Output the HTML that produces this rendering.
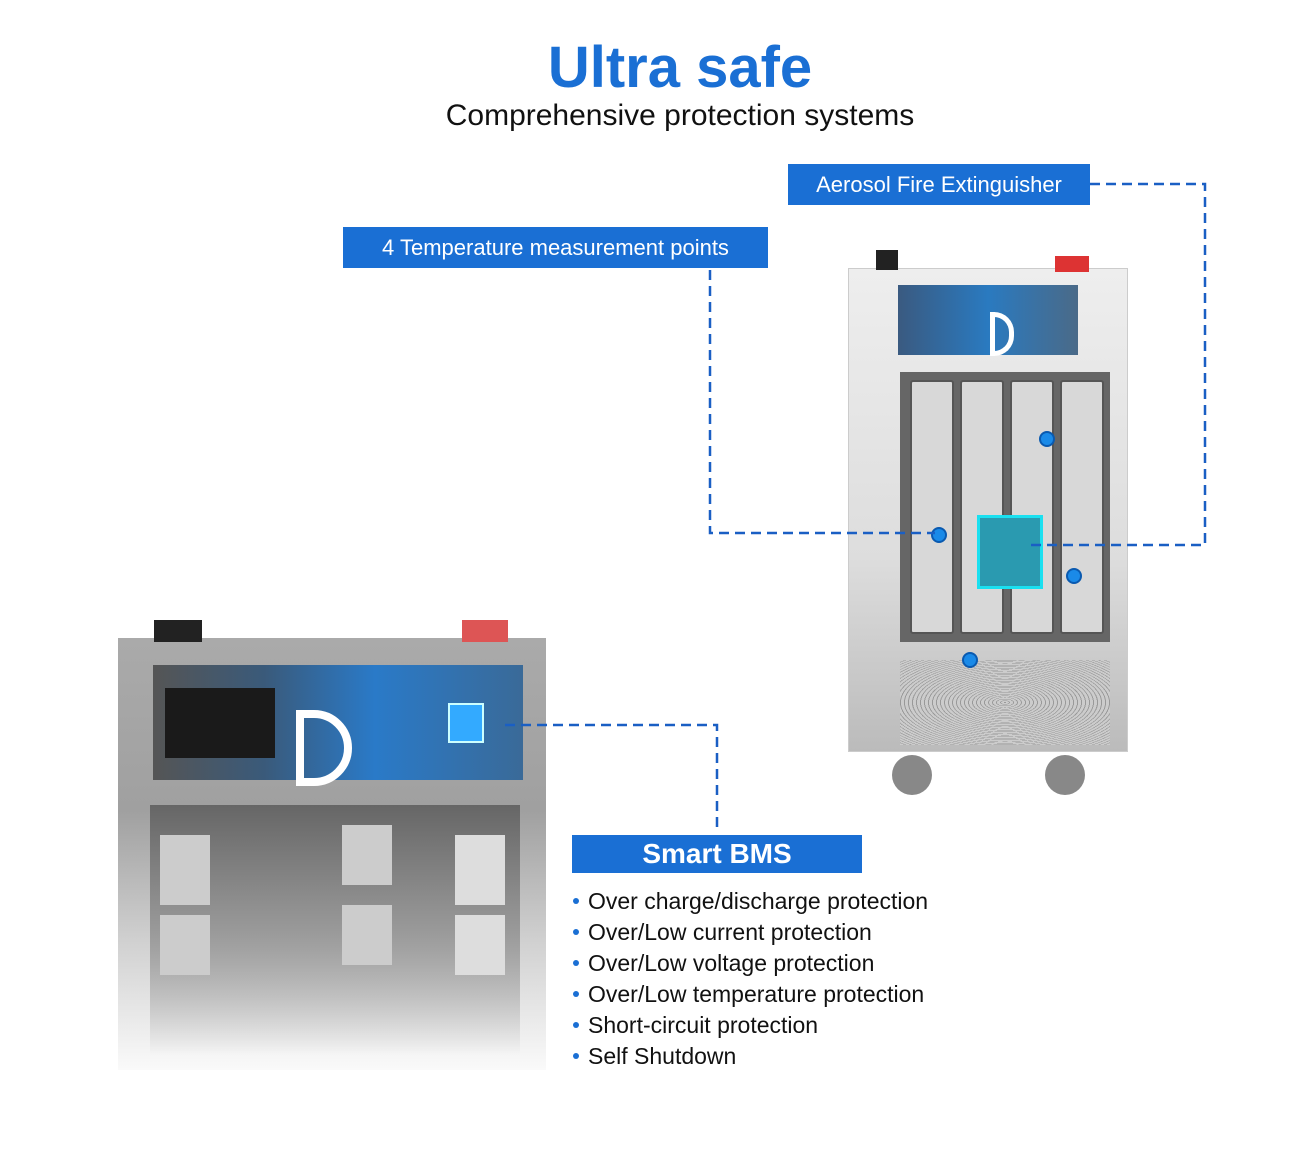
<!DOCTYPE html>
<html><head><meta charset="utf-8"><style>
body{margin:0;width:1300px;height:1150px;background:#fff;position:relative;overflow:hidden;font-family:"Liberation Sans",sans-serif}
.a{position:absolute}
.lbl{position:absolute;background:#1a6fd4;color:#fff;font-size:22px;display:flex;align-items:center;justify-content:center}
.cell{position:absolute;background:#d8d8d8;border:2px solid #555;border-radius:3px}
.dot{position:absolute;width:12px;height:12px;border-radius:50%;background:#1a8ae8;border:2px solid #0a5ab0}
li{height:31px;line-height:31px;position:relative;padding-left:15px}
li:before{content:"";position:absolute;left:0;top:12px;width:6px;height:6px;border-radius:50%;background:#1a6fd4}
</style></head><body>
<div class="a" style="left:0;width:1360px;top:34px;text-align:center;font-size:58px;font-weight:bold;color:#1a6fd4">Ultra safe</div>
<div class="a" style="left:0;width:1360px;top:99px;text-align:center;font-size:30px;color:#111">Comprehensive protection systems</div>

<div class="lbl" style="left:788px;top:164px;width:302px;height:41px">Aerosol Fire Extinguisher</div>
<div class="lbl" style="left:343px;top:227px;width:425px;height:41px">4 Temperature measurement points</div>

<!-- right battery -->
<div class="a" style="left:848px;top:268px;width:278px;height:482px;background:linear-gradient(#eee,#ddd 60%,#bbb);border:1px solid #ccc"></div>
<div class="a" style="left:876px;top:250px;width:22px;height:20px;background:#222"></div>
<div class="a" style="left:1055px;top:256px;width:34px;height:16px;background:#d33"></div>
<div class="a" style="left:898px;top:285px;width:180px;height:70px;background:linear-gradient(90deg,#3a5a80,#2a7ac0,#4a6a88)"></div>
<div class="a" style="left:990px;top:312px;width:14px;height:34px;border:5px solid #fff;border-radius:0 20px 20px 0"></div>
<div class="a" style="left:900px;top:372px;width:210px;height:270px;background:#666"></div>
<div class="cell" style="left:910px;top:380px;width:40px;height:250px"></div>
<div class="cell" style="left:960px;top:380px;width:40px;height:250px"></div>
<div class="cell" style="left:1010px;top:380px;width:40px;height:250px"></div>
<div class="cell" style="left:1060px;top:380px;width:40px;height:250px"></div>
<div class="a" style="left:977px;top:515px;width:60px;height:68px;background:#2a9ab0;border:3px solid #1ae0f0"></div>
<div class="a" style="left:900px;top:660px;width:210px;height:85px;background:repeating-radial-gradient(#999 0 1px,#ccc 1px 4px)"></div>
<div class="a" style="left:892px;top:755px;width:40px;height:40px;border-radius:50%;background:#888"></div>
<div class="a" style="left:1045px;top:755px;width:40px;height:40px;border-radius:50%;background:#888"></div>
<div class="dot" style="left:931px;top:527px"></div>
<div class="dot" style="left:1039px;top:431px"></div>
<div class="dot" style="left:1066px;top:568px"></div>
<div class="dot" style="left:962px;top:652px"></div>

<!-- left battery -->
<div class="a" style="left:118px;top:638px;width:428px;height:432px;background:linear-gradient(#aaa,#a0a0a0 40%,#d0d0d0 70%,#fafafa)"></div>
<div class="a" style="left:154px;top:620px;width:48px;height:22px;background:#222"></div>
<div class="a" style="left:462px;top:620px;width:46px;height:22px;background:#d55"></div>
<div class="a" style="left:153px;top:665px;width:370px;height:115px;background:linear-gradient(90deg,#555 0,#3a5a7a 30%,#2a7ac8 60%,#3a6a98)"></div>
<div class="a" style="left:165px;top:688px;width:110px;height:70px;background:#1a1a1a"></div>
<div class="a" style="left:296px;top:710px;width:40px;height:60px;border:8px solid #fff;border-radius:0 40px 40px 0"></div>
<div class="a" style="left:448px;top:703px;width:32px;height:36px;background:#3af;border:2px solid #cff"></div>
<div class="a" style="left:150px;top:805px;width:370px;height:250px;background:linear-gradient(#666,#999 50%,rgba(255,255,255,0))"></div>
<div class="a" style="left:160px;top:835px;width:50px;height:70px;background:#ccc"></div>
<div class="a" style="left:455px;top:835px;width:50px;height:70px;background:#ddd"></div>
<div class="a" style="left:342px;top:825px;width:50px;height:60px;background:#ccc"></div>
<div class="a" style="left:160px;top:915px;width:50px;height:60px;background:#ccc"></div>
<div class="a" style="left:342px;top:905px;width:50px;height:60px;background:#ccc"></div>
<div class="a" style="left:455px;top:915px;width:50px;height:60px;background:#ddd"></div>

<!-- connectors -->
<svg class="a" style="left:0;top:0" width="1300" height="1150">
<g fill="none" stroke="#1a5fc4" stroke-width="2.5" stroke-dasharray="10 6">
<polyline points="1090,184 1205,184 1205,545 1030,545"/>
<polyline points="710,270 710,533 935,533"/>
<polyline points="505,725 717,725 717,830"/>
</g></svg>

<div class="lbl" style="left:572px;top:835px;width:290px;height:38px;font-size:28px;font-weight:bold">Smart BMS</div>
<ul class="a" style="left:573px;top:886px;margin:0;padding:0;font-size:23px;color:#111;list-style:none">
<li>Over charge/discharge protection</li>
<li>Over/Low current protection</li>
<li>Over/Low voltage protection</li>
<li>Over/Low temperature protection</li>
<li>Short-circuit protection</li>
<li>Self Shutdown</li>
</ul>
</body></html>
